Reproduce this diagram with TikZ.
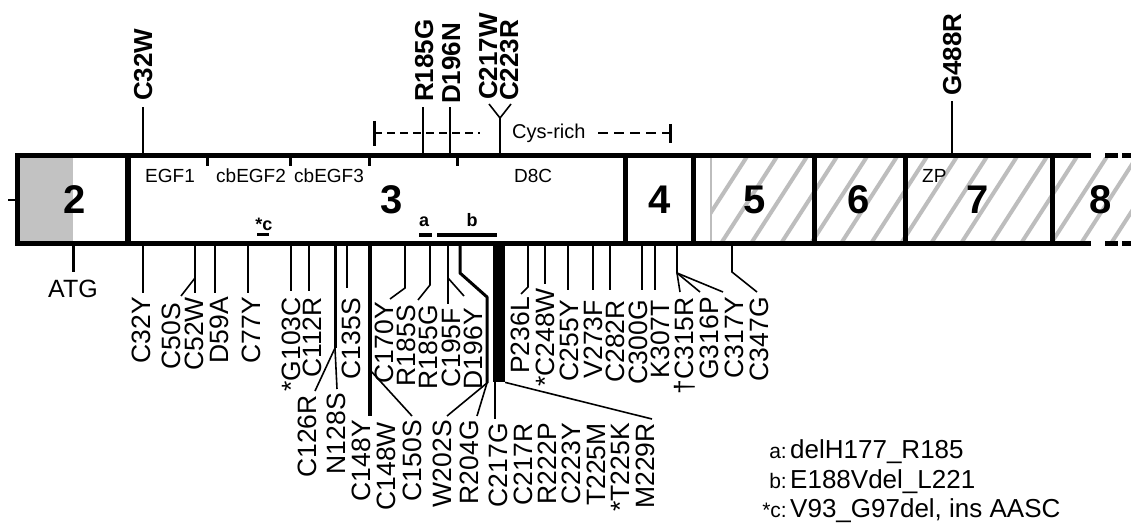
\documentclass[tikz,border=0pt]{standalone}
\usepackage{fontspec}
\setmainfont{Liberation Sans}
\usetikzlibrary{calc}
\definecolor{hatchgray}{gray}{0.74}
\definecolor{fillgray}{gray}{0.76}
\begin{document}
\begin{tikzpicture}[x=1pt,y=-1pt,
  lab/.style={font=\fontsize{26.5}{26.5}\selectfont, rotate=90, anchor=east, inner sep=0pt, text depth=0pt},
  toplab/.style={font=\bfseries\fontsize{26}{26}\selectfont, rotate=90, anchor=west, inner sep=0pt, text depth=0pt},
  exnum/.style={font=\bfseries\fontsize{40}{40}\selectfont, inner sep=0pt},
  dom/.style={font=\fontsize{19}{19}\selectfont, anchor=base west, inner sep=0pt},
  mk/.style={font=\bfseries\fontsize{18}{18}\selectfont, anchor=base, inner sep=0pt},
  leg/.style={font=\fontsize{26}{26}\selectfont, anchor=base west, inner sep=0pt},
  legp/.style={font=\fontsize{21}{21}\selectfont, anchor=base east, inner sep=0pt},
  conn/.style={line width=1.6pt},
  thk/.style={line width=3pt},
  border/.style={line width=5pt},
  sepline/.style={line width=5pt},
  tickline/.style={line width=3pt},
  hatchline/.style={line width=4pt, draw=hatchgray},
  barline/.style={line width=3.5pt},
  dashline/.style={line width=2.5pt},
]
\useasboundingbox (0,0) rectangle (1131,529);

% ---------- exon box ----------
\fill[white] (17,155.5) rectangle (1131,243.5);
\fill[fillgray] (19.5,158) rectangle (73,241);
\begin{scope}
  \clip (711,158) rectangle (1131,241);
  \foreach \i in {0,...,15} { \draw[hatchline] (690+\i*30,245) -- ++(58,-90); }
\end{scope}
\draw[line width=1.5pt, hatchgray] (711,158) -- (711,241);

\draw[border, line join=miter] (1091,155.5) -- (17,155.5) -- (17,243.5) -- (1091,243.5);
\draw[border, dash pattern=on 13pt off 4pt] (1105,155.5) -- (1131,155.5);
\draw[border, dash pattern=on 13pt off 4pt] (1105,243.5) -- (1131,243.5);
\draw[line width=2.5pt] (8,200) -- (17,200);

\draw[line width=6pt] (128,155.5) -- (128,243.5);
\foreach \xx in {625,693,814,905,1052} { \draw[sepline] (\xx,155.5) -- (\xx,243.5); }

% domain ticks
\foreach \xx in {207,290,369,457} { \draw[tickline] (\xx,155.5) -- (\xx,166); }

% exon numbers
\node[exnum] (e2) at (75,200) {2};
\node[exnum] (e3) at (392,200) {3};
\node[exnum] (e4) at (660,200) {4};
\node[exnum] (e5) at (755,200) {5};
\node[exnum] (e6) at (859,200) {6};
\node[exnum] (e7) at (978,200) {7};
\node[exnum] (e8) at (1101,200) {8};

% domains
\node[dom] (egf1) at (145,183) {EGF1};
\node[dom] (cbegf2) at (216,183) {cbEGF2};
\node[dom] (cbegf3) at (294,183) {cbEGF3};
\node[dom] (d8c) at (514,183) {D8C};
\node[dom] (zp) at (922,183) {ZP};

% Cys-rich bracket
\node[dom, font=\fontsize{20}{20}\selectfont] (cys) at (512,139) {Cys-rich};
\coordinate (brL) at (374,133);
\coordinate (brLe) at (480,133);
\coordinate (brRs) at (598,133);
\coordinate (brR) at (670,133);
\draw[tickline] (374,121) -- (374,146);
\draw[tickline] (670,124) -- (670,143);
\draw[dashline, dash pattern=on 8pt off 5pt] (brL) -- (brLe);
\draw[dashline, dash pattern=on 10pt off 6pt] (brRs) -- (brR);

% deletions inside exon 3
\node[mk] (mc) at (264,230) {*c};
\node[mk] (ma) at (424,227) {a};
\node[mk] (mb) at (472,227) {b};
\draw[barline] (257,234.5) -- (269,234.5);
\draw[barline] (419,235) -- (432,235);
\draw[barline] (437,235) -- (497,235);

% ---------- top labels ----------
\node[toplab] (C32W) at (143,101) {C32W};
\node[toplab] (R185Gt) at (424,102) {R185G};
\node[toplab] (D196N) at (451,104) {D196N};
\node[toplab] (C217W) at (488,100) {C217W};
\node[toplab] (C223R) at (509,101) {C223R};
\node[toplab] (G488R) at (952,96) {G488R};

\coordinate (t32) at (143,155.5);
\coordinate (t185) at (423,155.5);
\coordinate (t196) at (450,155.5);
\coordinate (tY) at (500,155.5);
\coordinate (yJ) at (500,118);
\coordinate (yA) at (489,104);
\coordinate (yB) at (511,104);
\coordinate (t488) at (952,155.5);
\draw[conn, shorten >=6pt] (t32) -- (t32 |- C32W.west);
\draw[conn, shorten >=5pt] (t185) -- (t185 |- R185Gt.west);
\draw[conn, shorten >=3pt] (t196) -- (t196 |- D196N.west);
\draw[conn] (tY) -- (yJ) -- (yA);
\draw[conn] (yJ) -- (yB);
\draw[conn, shorten >=5pt] (t488) -- (t488 |- G488R.west);

% ATG
\coordinate (batg) at (73,246);
\node[font=\fontsize{25}{25}\selectfont, anchor=north, inner sep=0pt] (atg) at (73,280) {ATG};
\draw[thk, shorten >=8pt] (batg) -- (atg.north);

% ---------- bottom labels, row 1 ----------
\node[lab] (C32Y) at (141,297) {C32Y};
\node[lab] (C50S) at (171,303) {C50S};
\node[lab] (C52W) at (194,297) {C52W};
\node[lab] (D59A) at (219,297) {D59A};
\node[lab] (C77Y) at (251,297) {C77Y};
\node[lab] (G103C) at (291,297) {*G103C};
\node[lab] (C112R) at (312,297) {C112R};
\node[lab] (C135S) at (351,298) {C135S};
\node[lab] (C170Y) at (384,302) {C170Y};
\node[lab] (R185S) at (406,305) {R185S};
\node[lab] (R185Gb) at (428,305) {R185G};
\node[lab] (C195F) at (451,308) {C195F};
\node[lab] (D196Y) at (473,308) {D196Y};
\node[lab] (P236L) at (520,297) {P236L};
\node[lab] (C248W) at (545,288) {*C248W};
\node[lab] (C255Y) at (569,300) {C255Y};
\node[lab] (V273F) at (593,300) {V273F};
\node[lab] (C282R) at (615,300) {C282R};
\node[lab] (C300G) at (638,300) {C300G};
\node[lab] (K307T) at (660,300) {K307T};
\node[lab] (C315R) at (684,297) {†C315R};
\node[lab] (G316P) at (709,297) {G316P};
\node[lab] (C317Y) at (734,297) {C317Y};
\node[lab] (C347G) at (759,297) {C347G};

% ---------- bottom labels, row 2 ----------
\node[lab] (C126R) at (307,395) {C126R};
\node[lab] (N128S) at (336,393) {N128S};
\node[lab] (C148Y) at (361,420) {C148Y};
\node[lab] (C148W) at (386,422) {C148W};
\node[lab] (C150S) at (412,420) {C150S};
\node[lab] (W202S) at (442,420) {W202S};
\node[lab] (R204G) at (469,420) {R204G};
\node[lab] (C217G) at (498,423) {C217G};
\node[lab] (C217R) at (523,423) {C217R};
\node[lab] (R222P) at (547,423) {R222P};
\node[lab] (C223Y) at (571,423) {C223Y};
\node[lab] (T225M) at (596,423) {T225M};
\node[lab] (T225K) at (620,423) {*T225K};
\node[lab] (M229R) at (645,423) {M229R};

% ---------- bottom connectors ----------
\coordinate (b32) at (143,246);
\coordinate (b50) at (195,246); \coordinate (k50) at (195,278); \coordinate (e50) at (181,296);
\coordinate (b59) at (215,246);
\coordinate (b77) at (248,246);
\coordinate (b103) at (291,246);
\coordinate (b112) at (309,246);
\coordinate (b126) at (335,246); \coordinate (k126) at (335,348);
\coordinate (e126) at (315,391); \coordinate (e128) at (337,389);
\coordinate (b135) at (347,246);
\coordinate (b148) at (370,246); \coordinate (k150) at (370,370); \coordinate (e150) at (412,416);
\coordinate (b170) at (405,246); \coordinate (k170) at (405,288); \coordinate (e170) at (390,299);
\coordinate (b185) at (430,246); \coordinate (k185) at (430,285); \coordinate (e185) at (418,300);
\coordinate (b195) at (448,246); \coordinate (k196) at (448,278); \coordinate (e196) at (464,296);
\coordinate (b202) at (460,246); \coordinate (k202a) at (460,273); \coordinate (k202b) at (487,297);
\coordinate (k202c) at (487,383); \coordinate (e202) at (447,416); \coordinate (e204) at (477,416);
\coordinate (b236) at (528,246); \coordinate (k236) at (528,287); \coordinate (e236) at (521,294);
\coordinate (b248) at (545,246);
\coordinate (b255) at (568,246);
\coordinate (b273) at (593,246);
\coordinate (b282) at (610,246);
\coordinate (b300) at (642,246);
\coordinate (b307) at (655,246);
\coordinate (b315) at (677,246); \coordinate (k315) at (677,273);
\coordinate (e315) at (680,292); \coordinate (e316) at (700,292); \coordinate (e317) at (723,292);
\coordinate (b347) at (732,246); \coordinate (k347) at (732,272); \coordinate (e347) at (757,292);

\draw[conn, shorten >=4pt] (b32) -- (b32 |- C32Y.east);
\draw[conn, shorten >=4pt] (b50) -- (b50 |- C52W.east);
\draw[conn] (k50) -- (e50);
\draw[conn, shorten >=4pt] (b59) -- (b59 |- D59A.east);
\draw[conn, shorten >=4pt] (b77) -- (b77 |- C77Y.east);
\draw[conn, shorten >=6pt] (b103) -- (b103 |- G103C.east);
\draw[conn, shorten >=6pt] (b112) -- (b112 |- C112R.east);
\draw[thk] (b126) -- (k126);
\draw[conn] (k126) -- (e126);
\draw[conn] (k126) -- (e128);
\draw[conn, shorten >=10pt] (b135) -- (b135 |- C135S.east);
\draw[line width=3.5pt, shorten >=4pt] (b148) -- (b148 |- C148Y.east);
\draw[conn] (k150) -- (e150);
\draw[conn] (b170) -- (k170) -- (e170);
\draw[conn] (b185) -- (k185) -- (e185);
\draw[conn, shorten >=4pt] (b195) -- (b195 |- C195F.east);
\draw[conn] (k196) -- (e196);
\draw[thk, line join=round] (b202) -- (k202a) -- (k202b) -- (k202c);
\draw[conn] (k202c) -- (e202);
\draw[conn] (k202c) -- (e204);

\node[fill=black, inner sep=0pt, minimum width=12pt, minimum height=137pt, anchor=north] (bar217) at (499,245) {};
\coordinate (k217) at (495,382);
\coordinate (e229) at (652,419);
\draw[conn, shorten >=4pt] (k217) -- (k217 |- C217G.east);
\draw[conn] (bar217.south east) -- (e229);

\draw[conn] (b236) -- (k236) -- (e236);
\draw[conn, shorten >=4pt] (b248) -- (b248 |- C248W.east);
\draw[conn, shorten >=10pt] (b255) -- (b255 |- C255Y.east);
\draw[conn, shorten >=10pt] (b273) -- (b273 |- V273F.east);
\draw[conn, shorten >=10pt] (b282) -- (b282 |- C282R.east);
\draw[conn, shorten >=10pt] (b300) -- (b300 |- C300G.east);
\draw[conn, shorten >=10pt] (b307) -- (b307 |- K307T.east);
\draw[conn] (b315) -- (k315) -- (e315);
\draw[conn] (k315) -- (e316);
\draw[conn] (k315) -- (e317);
\draw[conn] (b347) -- (k347) -- (e347);

% ---------- legend ----------
\node[legp] (la) at (787,458) {a:};
\node[leg] (lat) at (790,458) {delH177\_R185};
\node[legp] (lb) at (787,488) {b:};
\node[leg] (lbt) at (790,488) {E188Vdel\_L221};
\node[legp] (lc) at (787,517) {*c:};
\node[leg] (lct) at (790,517) {V93\_G97del, ins AASC};
\end{tikzpicture}
\end{document}
